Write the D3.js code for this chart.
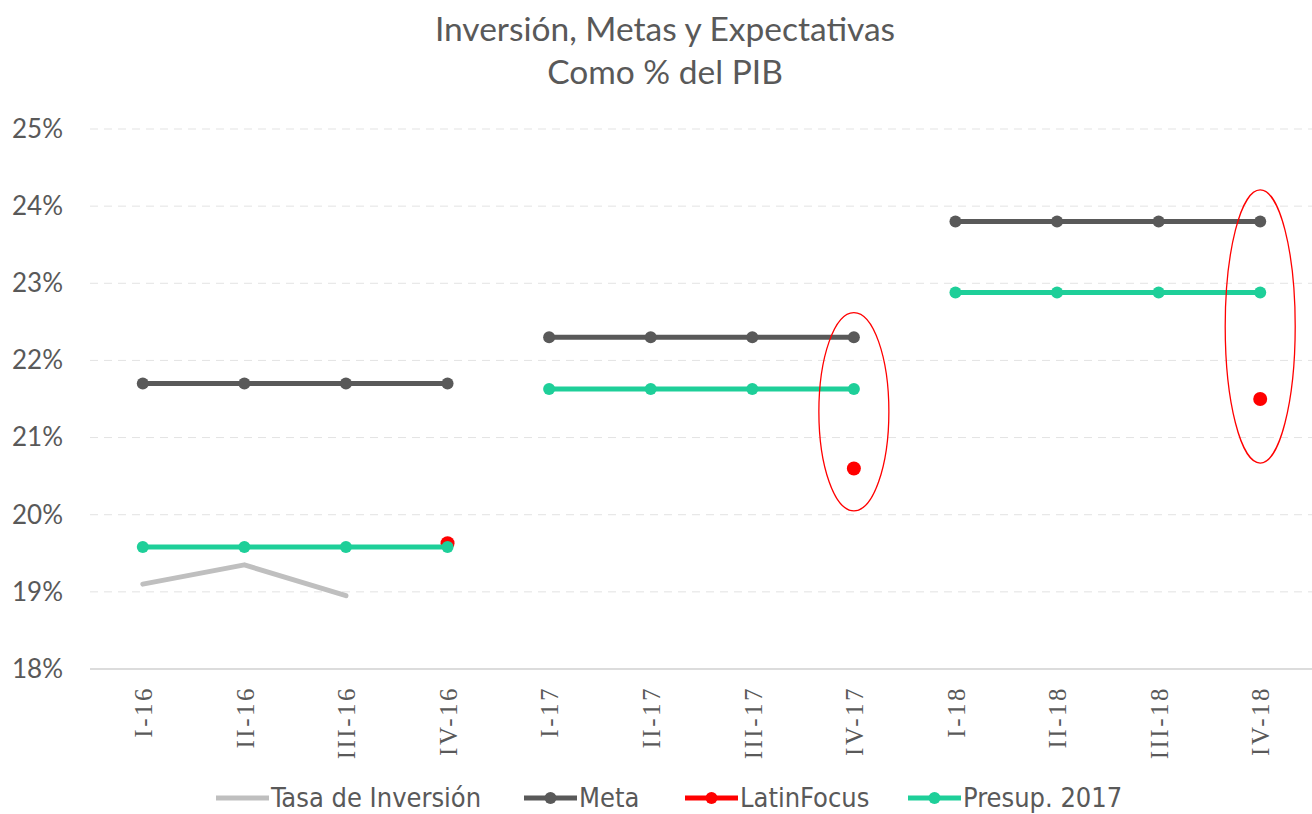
<!DOCTYPE html>
<html>
<head>
  <meta charset="utf-8">
  <title>Inversión, Metas y Expectativas</title>
  <script src="https://cdnjs.cloudflare.com/ajax/libs/d3/7.8.5/d3.min.js"></script>
  <style>
  body { margin: 0; background: #fff; }
  svg { display: block; }
  </style>
</head>
<body>
  <script>

var quarters = ["I-16", "II-16", "III-16", "IV-16", "I-17", "II-17", "III-17", "IV-17", "I-18", "II-18", "III-18", "IV-18"];
var tasaInversion = [19.1, 19.35, 18.95, null, null, null, null, null, null, null, null, null];
var meta = [21.7, 21.7, 21.7, 21.7, 22.3, 22.3, 22.3, 22.3, 23.8, 23.8, 23.8, 23.8];
var latinFocus = [null, null, null, 19.63, null, null, null, 20.6, null, null, null, 21.5];
var presup2017 = [19.58, 19.58, 19.58, 19.58, 21.63, 21.63, 21.63, 21.63, 22.88, 22.88, 22.88, 22.88];
// breaks between years (line segments per year)
var yearGroups = [[0, 1, 2, 3], [4, 5, 6, 7], [8, 9, 10, 11]];
var yTicks = [18, 19, 20, 21, 22, 23, 24, 25];
// circled points: quarter, top %, bottom %
var highlights = [
  {q: "IV-17", top: 22.62, bottom: 20.05},
  {q: "IV-18", top: 24.21, bottom: 20.67}
];

var width = 1312, height = 814;
var MARGINS = {left: 92, top: 129, right: 1, bottom: 145};

var svg = d3.select("body").append("svg")
    .attr("width", width)
    .attr("height", height);

var xScale = d3.scalePoint()
    .domain(quarters)
    .range([MARGINS.left, width - MARGINS.right])
    .padding(0.5);

var yScale = d3.scaleLinear()
    .domain([18, 25])
    .range([height - MARGINS.bottom, MARGINS.top]);

// title
var title = svg.append("text")
    .attr("font-family", "Lato, sans-serif")
    .attr("font-size", "33.5px")
    .attr("fill", "#595959")
    .attr("text-anchor", "middle");
title.append("tspan").attr("x", 665).attr("y", 41).text("Inversión, Metas y Expectativas");
title.append("tspan").attr("x", 665).attr("y", 84).text("Como % del PIB");

// grid
svg.append("g").selectAll("line")
    .data(yTicks)
    .enter().append("line")
    .attr("x1", MARGINS.left - 2)
    .attr("x2", width)
    .attr("y1", function(d) { return yScale(d); })
    .attr("y2", function(d) { return yScale(d); })
    .attr("stroke", function(d) { return d === 18 ? "#d0d0d0" : "#e3e3e3"; })
    .attr("stroke-width", function(d) { return d === 18 ? 1.5 : 1; })
    .attr("stroke-dasharray", function(d) { return d === 18 ? null : "8,6"; });

var yAxis = d3.axisLeft(yScale)
    .tickValues(yTicks)
    .tickSize(0)
    .tickPadding(0)
    .tickFormat(function(d) { return d + "%"; });

var yAxisGroup = svg.append("g")
    .attr("transform", "translate(63,0)")
    .call(yAxis);
yAxisGroup.select(".domain").remove();
yAxisGroup.selectAll("text")
    .attr("font-family", "Lato, sans-serif")
    .attr("font-size", "26px")
    .attr("fill", "#595959");

var xAxis = d3.axisBottom(xScale).tickSize(0);
var xAxisGroup = svg.append("g")
    .attr("transform", "translate(0," + (height - MARGINS.bottom) + ")")
    .call(xAxis);
xAxisGroup.select(".domain").remove();
xAxisGroup.selectAll("text")
    .attr("font-family", "'Liberation Serif', serif")
    .attr("font-size", "25px")
    .attr("letter-spacing", "2.5px")
    .attr("fill", "#595959")
    .attr("transform", "rotate(-90)")
    .attr("text-anchor", "end")
    .attr("x", -17)
    .attr("y", 0)
    .attr("dy", "0.35em");

function segLine(values) {
  return d3.line()
    .defined(function(i) { return values[i] != null; })
    .x(function(i) { return xScale(quarters[i]); })
    .y(function(i) { return yScale(values[i]); });
}

// Tasa de inversión
svg.append("path")
    .attr("d", segLine(tasaInversion)(yearGroups[0]))
    .attr("fill", "none")
    .attr("stroke", "#bfbfbf")
    .attr("stroke-width", 5)
    .attr("stroke-linecap", "round")
    .attr("stroke-linejoin", "round");

function drawSeries(values, color, r) {
  var g = svg.append("g");
  yearGroups.forEach(function(grp) {
    g.append("path")
      .attr("d", segLine(values)(grp))
      .attr("fill", "none")
      .attr("stroke", color)
      .attr("stroke-width", 5);
  });
  g.selectAll("circle")
    .data(values.map(function(v, i) { return {v: v, q: quarters[i]}; }).filter(function(d) { return d.v != null; }))
    .enter().append("circle")
    .attr("cx", function(d) { return xScale(d.q); })
    .attr("cy", function(d) { return yScale(d.v); })
    .attr("r", r)
    .attr("fill", color);
}

drawSeries(meta, "#595959", 6);

// LatinFocus points only
svg.append("g").selectAll("circle")
    .data(latinFocus.map(function(v, i) { return {v: v, q: quarters[i]}; }).filter(function(d) { return d.v != null; }))
    .enter().append("circle")
    .attr("cx", function(d) { return xScale(d.q); })
    .attr("cy", function(d) { return yScale(d.v); })
    .attr("r", 7)
    .attr("fill", "#ff0000");

drawSeries(presup2017, "#1ecf99", 6);

// highlight ellipses
svg.append("g").selectAll("ellipse")
    .data(highlights)
    .enter().append("ellipse")
    .attr("cx", function(d) { return xScale(d.q); })
    .attr("cy", function(d) { return (yScale(d.top) + yScale(d.bottom)) / 2; })
    .attr("rx", 35)
    .attr("ry", function(d) { return (yScale(d.bottom) - yScale(d.top)) / 2; })
    .attr("fill", "none")
    .attr("stroke", "#ff0000")
    .attr("stroke-width", 1.3);

// legend
var legendItems = [
  {name: "Tasa de Inversión", color: "#bfbfbf", marker: false, x: 216},
  {name: "Meta", color: "#595959", marker: true, x: 524},
  {name: "LatinFocus", color: "#ff0000", marker: true, x: 685},
  {name: "Presup. 2017", color: "#1ecf99", marker: true, x: 908}
];
var legendY = 798;
var legend = svg.append("g").selectAll("g")
    .data(legendItems)
    .enter().append("g")
    .attr("transform", function(d) { return "translate(" + d.x + "," + legendY + ")"; });
legend.append("line")
    .attr("x1", 0).attr("x2", 53)
    .attr("stroke", function(d) { return d.color; })
    .attr("stroke-width", 5);
legend.filter(function(d) { return d.marker; }).append("circle")
    .attr("cx", 26.5).attr("r", 6)
    .attr("fill", function(d) { return d.color; });
legend.append("text")
    .attr("x", 55)
    .attr("dy", "0.35em")
    .attr("font-family", "'Liberation Sans Narrow', 'DejaVu Sans Condensed', sans-serif")
    .attr("font-size", "27px")
    .attr("fill", "#595959")
    .text(function(d) { return d.name; });

  </script>
</body>
</html>
